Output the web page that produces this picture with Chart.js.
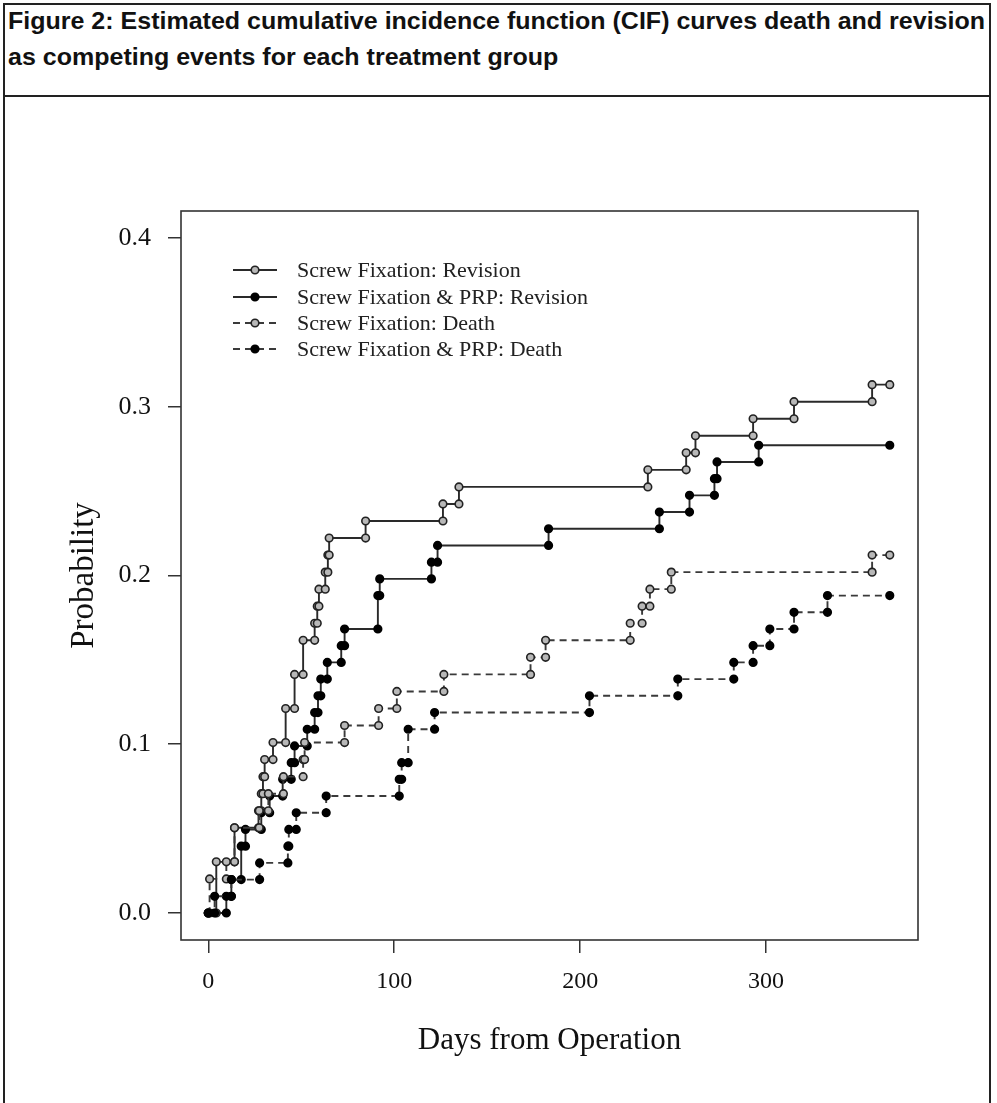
<!DOCTYPE html>
<html>
<head>
<meta charset="utf-8">
<script src="https://cdn.jsdelivr.net/npm/chart.js@4.4.1/dist/chart.umd.min.js"></script>
<style>
  html, body { margin: 0; padding: 0; background: #fff; overflow: hidden; }
  body { width: 997px; height: 1103px; position: relative; }
  #frame { position: absolute; left: 3px; top: 3px; width: 988px; height: 1110px; border: 2px solid #222; box-sizing: border-box; }
  #titlebox { position: absolute; left: 3px; top: 3px; width: 988px; height: 94px; border-bottom: 2px solid #222; box-sizing: border-box; }
  .tl { position: absolute; left: 8px; white-space: nowrap; font-family: "Liberation Sans", Arial, sans-serif; font-weight: bold; font-size: 24px; color: #111; transform-origin: 0 50%; }
  #t1 { top: 7px; }
  #t2 { top: 43px; }
  #c { position: absolute; left: 0; top: 0; }
</style>
</head>
<body>
<div id="frame"></div>
<div id="titlebox"></div>
<span class="tl" id="t1">Figure 2: Estimated cumulative incidence function (CIF) curves death and revision</span>
<span class="tl" id="t2">as competing events for each treatment group</span>
<canvas id="c" width="997" height="1103"></canvas>
<script>
// ---- data (days from operation, cumulative incidence) ----
const seriesNames = [
  "Screw Fixation: Revision",
  "Screw Fixation & PRP: Revision",
  "Screw Fixation: Death",
  "Screw Fixation & PRP: Death"
];
const sfRevDays = [4.3, 14.1, 27.0, 28.5, 29.4, 30.3, 34.8, 41.6, 46.4, 51.0, 57.2, 58.6, 59.5, 62.9, 64.3, 65.0, 84.6, 126.2, 134.8, 236.4, 257.0, 262.0, 293.0, 315.0, 357.0];
const sfRevCIF  = [0.0303, 0.0505, 0.0606, 0.0707, 0.0808, 0.0909, 0.1010, 0.1212, 0.1414, 0.1616, 0.1717, 0.1818, 0.1919, 0.2020, 0.2121, 0.2222, 0.2323, 0.2424, 0.2525, 0.2626, 0.2727, 0.2828, 0.2929, 0.3030, 0.3131];

const prpRevDays = [9.7, 12.4, 17.7, 20.0, 28.5, 33.0, 40.0, 44.6, 46.4, 53.2, 57.2, 59.0, 60.5, 64.0, 71.5, 73.3, 91.2, 92.2, 120.0, 123.3, 183.0, 242.6, 258.8, 272.2, 273.6, 296.0];
const prpRevCIF  = [0.0099, 0.0198, 0.0396, 0.0495, 0.0594, 0.0693, 0.0792, 0.0891, 0.0990, 0.1089, 0.1188, 0.1287, 0.1386, 0.1485, 0.1584, 0.1683, 0.1881, 0.1980, 0.2079, 0.2178, 0.2277, 0.2376, 0.2475, 0.2574, 0.2673, 0.2772];

const sfDeathDays = [0.7, 9.7, 14.1, 27.4, 32.3, 40.4, 51.0, 51.8, 73.3, 91.6, 101.4, 126.7, 173.3, 181.4, 226.9, 233.3, 237.5, 249.0, 357.0];
const sfDeathCIF  = [0.0202, 0.0303, 0.0505, 0.0606, 0.0707, 0.0808, 0.0909, 0.1010, 0.1111, 0.1212, 0.1313, 0.1414, 0.1515, 0.1616, 0.1717, 0.1818, 0.1919, 0.2020, 0.2121];

const prpDeathDays = [3.4, 12.4, 27.6, 42.8, 43.3, 47.3, 63.4, 102.7, 104.0, 107.5, 121.7, 205.0, 252.5, 282.6, 293.0, 302.0, 315.0, 333.0];
const prpDeathCIF  = [0.0099, 0.0198, 0.0297, 0.0396, 0.0495, 0.0594, 0.0693, 0.0792, 0.0891, 0.1089, 0.1188, 0.1287, 0.1386, 0.1485, 0.1584, 0.1683, 0.1782, 0.1881];

const followUpEnd = 366.5;
const xTicks = [0, 100, 200, 300];
const xTickLabels = ["0", "100", "200", "300"];
const yTicks = [0, 0.1, 0.2, 0.3, 0.4];
const yTickLabels = ["0.0", "0.1", "0.2", "0.3", "0.4"];
const xTitle = "Days from Operation";
const yTitle = "Probability";

// ---- fit title lines to the figure width ----
(function () {
  const t1 = document.getElementById('t1');
  const t2 = document.getElementById('t2');
  const w = t1.getBoundingClientRect().width;
  const s = 977 / w;
  t1.style.transform = 'scaleX(' + s + ')';
  t2.style.transform = 'scaleX(' + s + ')';
})();

// step-function vertices (a point at each corner, as in the cuminc output)
function stepVertices(days, cif, endDay) {
  const pts = [{ x: 0, y: 0 }];
  let prev = 0;
  days.forEach((d, i) => {
    pts.push({ x: d, y: prev });
    pts.push({ x: d, y: cif[i] });
    prev = cif[i];
  });
  pts.push({ x: endDay, y: prev });
  return pts;
}

const grayFill = '#b8b8b8';
const darkLine = '#2a2a2a';
const dash = [7, 5];

function ds(label, days, cif, filled, dashed) {
  return {
    label: label,
    data: stepVertices(days, cif, followUpEnd),
    showLine: true,
    borderColor: dashed ? '#3a3a3a' : darkLine,
    borderWidth: 1.9,
    borderDash: dashed ? dash : [],
    tension: 0,
    pointRadius: 3.8,
    pointBorderWidth: 1.6,
    pointBackgroundColor: filled ? '#000' : grayFill,
    pointBorderColor: filled ? '#000' : '#222',
    pointStyle: 'circle',
    clip: false
  };
}

const datasets = [
  ds(seriesNames[3], prpDeathDays, prpDeathCIF, true, true),
  ds(seriesNames[2], sfDeathDays, sfDeathCIF, false, true),
  ds(seriesNames[1], prpRevDays, prpRevCIF, true, false),
  ds(seriesNames[0], sfRevDays, sfRevCIF, false, false)
];

const boxPlugin = {
  id: 'box',
  beforeDatasetsDraw(chart) {
    const a = chart.chartArea, ctx = chart.ctx;
    ctx.save();
    ctx.strokeStyle = '#333';
    ctx.lineWidth = 1.6;
    ctx.strokeRect(a.left, a.top, a.right - a.left, a.bottom - a.top);
    ctx.restore();
  }
};

const rLegend = {
  id: 'rLegend',
  afterDraw(chart) {
    const ctx = chart.ctx;
    const x0 = 233, x1 = 277, xm = 255, tx = 297;
    const rowY = [270, 297, 323, 349];
    const order = [3, 2, 1, 0]; // dataset index for each legend row
    ctx.save();
    order.forEach((di, r) => {
      const d = chart.data.datasets[di];
      const y = rowY[r];
      ctx.strokeStyle = d.borderColor;
      ctx.lineWidth = d.borderWidth;
      ctx.setLineDash(d.borderDash);
      ctx.beginPath(); ctx.moveTo(x0, y); ctx.lineTo(x1, y); ctx.stroke();
      ctx.setLineDash([]);
      ctx.beginPath(); ctx.arc(xm, y, d.pointRadius, 0, Math.PI * 2);
      ctx.fillStyle = d.pointBackgroundColor; ctx.fill();
      ctx.lineWidth = d.pointBorderWidth; ctx.strokeStyle = d.pointBorderColor; ctx.stroke();
      ctx.fillStyle = '#222';
      ctx.font = '22px "Liberation Serif", "Times New Roman", serif';
      ctx.textBaseline = 'middle';
      ctx.textAlign = 'left';
      ctx.fillText(d.label, tx, y + 1);
    });
    ctx.restore();
  }
};

const serif = '"Liberation Serif", "Times New Roman", serif';

new Chart(document.getElementById('c'), {
  type: 'scatter',
  data: { datasets: datasets },
  options: {
    responsive: false,
    animation: false,
    devicePixelRatio: 1,
    layout: { padding: { top: 211, right: 79, left: 0, bottom: 0 } },
    plugins: { legend: { display: false }, tooltip: { enabled: false } },
    scales: {
      x: {
        type: 'linear',
        min: -14.68, max: 381.68,
        afterBuildTicks: s => { s.ticks = xTicks.map(v => ({ value: v })); },
        afterFit: s => { s.height = 163; },
        grid: { drawOnChartArea: false, drawTicks: true, tickLength: 13, tickColor: '#333', lineWidth: 1.5 },
        border: { display: false },
        ticks: {
          color: '#111', padding: 14, maxRotation: 0, autoSkip: false,
          font: { family: serif, size: 24 },
          callback: (v) => xTickLabels[xTicks.indexOf(v)]
        },
        title: { display: true, text: xTitle, color: '#111', font: { family: serif, size: 31 }, padding: { top: 0, bottom: 44 } }
      },
      y: {
        type: 'linear',
        min: -0.016, max: 0.416,
        afterBuildTicks: s => { s.ticks = yTicks.map(v => ({ value: v })); },
        afterFit: s => { s.width = 181; },
        grid: { drawOnChartArea: false, drawTicks: true, tickLength: 13, tickColor: '#333', lineWidth: 1.5 },
        border: { display: false },
        ticks: {
          color: '#111', padding: 17, autoSkip: false,
          font: { family: serif, size: 26 },
          callback: (v) => yTickLabels[yTicks.indexOf(v)]
        },
        title: { display: true, text: yTitle, color: '#111', font: { family: serif, size: 33 }, padding: { top: 65, bottom: 0 } }
      }
    }
  },
  plugins: [boxPlugin, rLegend]
});
</script>
</body>
</html>
